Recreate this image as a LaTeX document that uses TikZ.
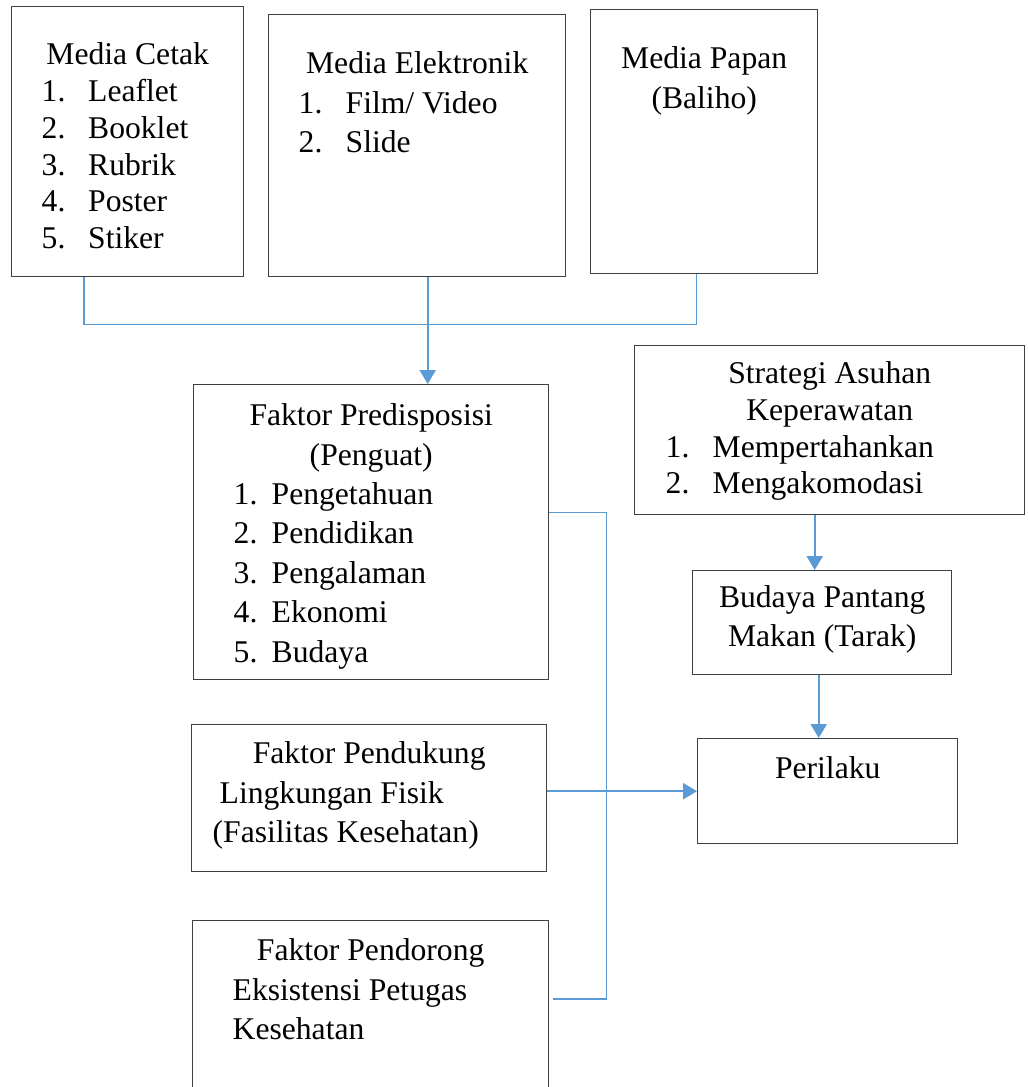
\documentclass[tikz,border=0pt]{standalone}
\usepackage{fontspec}
\setmainfont{Liberation Serif}
\usepackage{tikz}
\definecolor{linkblue}{RGB}{91, 155, 213}
\definecolor{boxgray}{RGB}{64, 64, 64}
\usetikzlibrary{arrows.meta, calc}
\newlength\px
\setlength\px{0.02cm}
\newcommand\topbox[4]{\begin{minipage}[t][#2\px][t]{#1\px}\fontsize{18}{22}\selectfont\setlength\baselineskip{#3\px}#4\end{minipage}}
\newcommand\itm[4]{\hspace*{#1\px}\makebox[#2\px][l]{#3}#4\par}

\begin{document}
\begin{tikzpicture}[
    x=0.02cm, y=-0.02cm,
    box/.style={draw=boxgray, line width=0.8pt, inner sep=0pt, anchor=north west},
    link/.style={draw=linkblue, line width=0.75pt},
    arrow/.style={draw=linkblue, line width=1.3pt, -{Triangle[width=0.32cm, length=0.28cm]}}
]
    \useasboundingbox (0,0) rectangle (1027,1087);

    \node[box] (cetak) at (11,6) {\topbox{232}{270}{36.8}{%
        \centerline{\rule{0pt}{58\px}Media Cetak}
        \itm{30}{46.5}{1.}{Leaflet}
        \itm{30}{46.5}{2.}{Booklet}
        \itm{30}{46.5}{3.}{Rubrik}
        \itm{30}{46.5}{4.}{Poster}
        \itm{30}{46.5}{5.}{Stiker}}};

    \node[box] (elektronik) at (268,14) {\topbox{297}{262}{39.5}{%
        \centerline{\rule{0pt}{59\px}Media Elektronik}
        \itm{30}{47}{1.}{Film/ Video}
        \itm{30}{47}{2.}{Slide}}};

    \node[box] (papan) at (590,9) {\topbox{227}{264}{40}{%
        \centerline{\rule{0pt}{59\px}Media Papan}
        \centerline{(Baliho)}}};

    \node[box] (predis) at (193,384) {\topbox{355}{295}{39.4}{%
        \centerline{\rule{0pt}{41\px}Faktor Predisposisi}
        \centerline{(Penguat)}
        \itm{40}{38}{1.}{Pengetahuan}
        \itm{40}{38}{2.}{Pendidikan}
        \itm{40}{38}{3.}{Pengalaman}
        \itm{40}{38}{4.}{Ekonomi}
        \itm{40}{38}{5.}{Budaya}}};

    \node[box] (strategi) at (634,345) {\topbox{390}{169}{36.7}{%
        \centerline{\rule{0pt}{38\px}Strategi Asuhan}
        \centerline{Keperawatan}
        \itm{31}{47}{1.}{Mempertahankan}
        \itm{31}{47}{2.}{Mengakomodasi}}};

    \node[box] (budaya) at (692,570) {\topbox{259}{104}{39}{%
        \centerline{\rule{0pt}{37\px}Budaya Pantang}
        \centerline{Makan (Tarak)}}};

    \node[box] (perilaku) at (697,738) {\topbox{260}{105}{39}{%
        \centerline{\rule{0pt}{40\px}Perilaku}}};

    \node[box] (pendukung) at (191,724) {\topbox{355}{147}{39.5}{%
        \centerline{\rule{0pt}{39\px}Faktor Pendukung}
        \itm{28}{0}{}{Lingkungan Fisik}
        \itm{21}{0}{}{(Fasilitas Kesehatan)}}};

    \node[box] (pendorong) at (192,920) {\topbox{356}{180}{39.5}{%
        \centerline{\rule{0pt}{40\px}Faktor Pendorong}
        \itm{40}{0}{}{Eksistensi Petugas}
        \itm{40}{0}{}{Kesehatan}}};

    \draw[link] ([xshift=73\px]cetak.south west) -- ++(0,47) -| ([xshift=-7.5\px]papan.south);
    \draw[arrow] ([xshift=10.5\px]elektronik.south) -- ([xshift=10.5\px]elektronik.south |- predis.north);

    \draw[link] ([yshift=19.5\px]predis.east) -| ([xshift=57\px, yshift=-79\px]pendorong.north east)
        -- ([xshift=4\px, yshift=-79\px]pendorong.north east);
    \draw[arrow] (pendukung.east |- perilaku.west) -- (perilaku.west);

    \draw[arrow] ([xshift=-15\px]strategi.south) -- ([xshift=-15\px]strategi.south |- budaya.north);
    \draw[arrow] ([xshift=-3.5\px]budaya.south) -- ([xshift=-3.5\px]budaya.south |- perilaku.north);
\end{tikzpicture}
\end{document}
